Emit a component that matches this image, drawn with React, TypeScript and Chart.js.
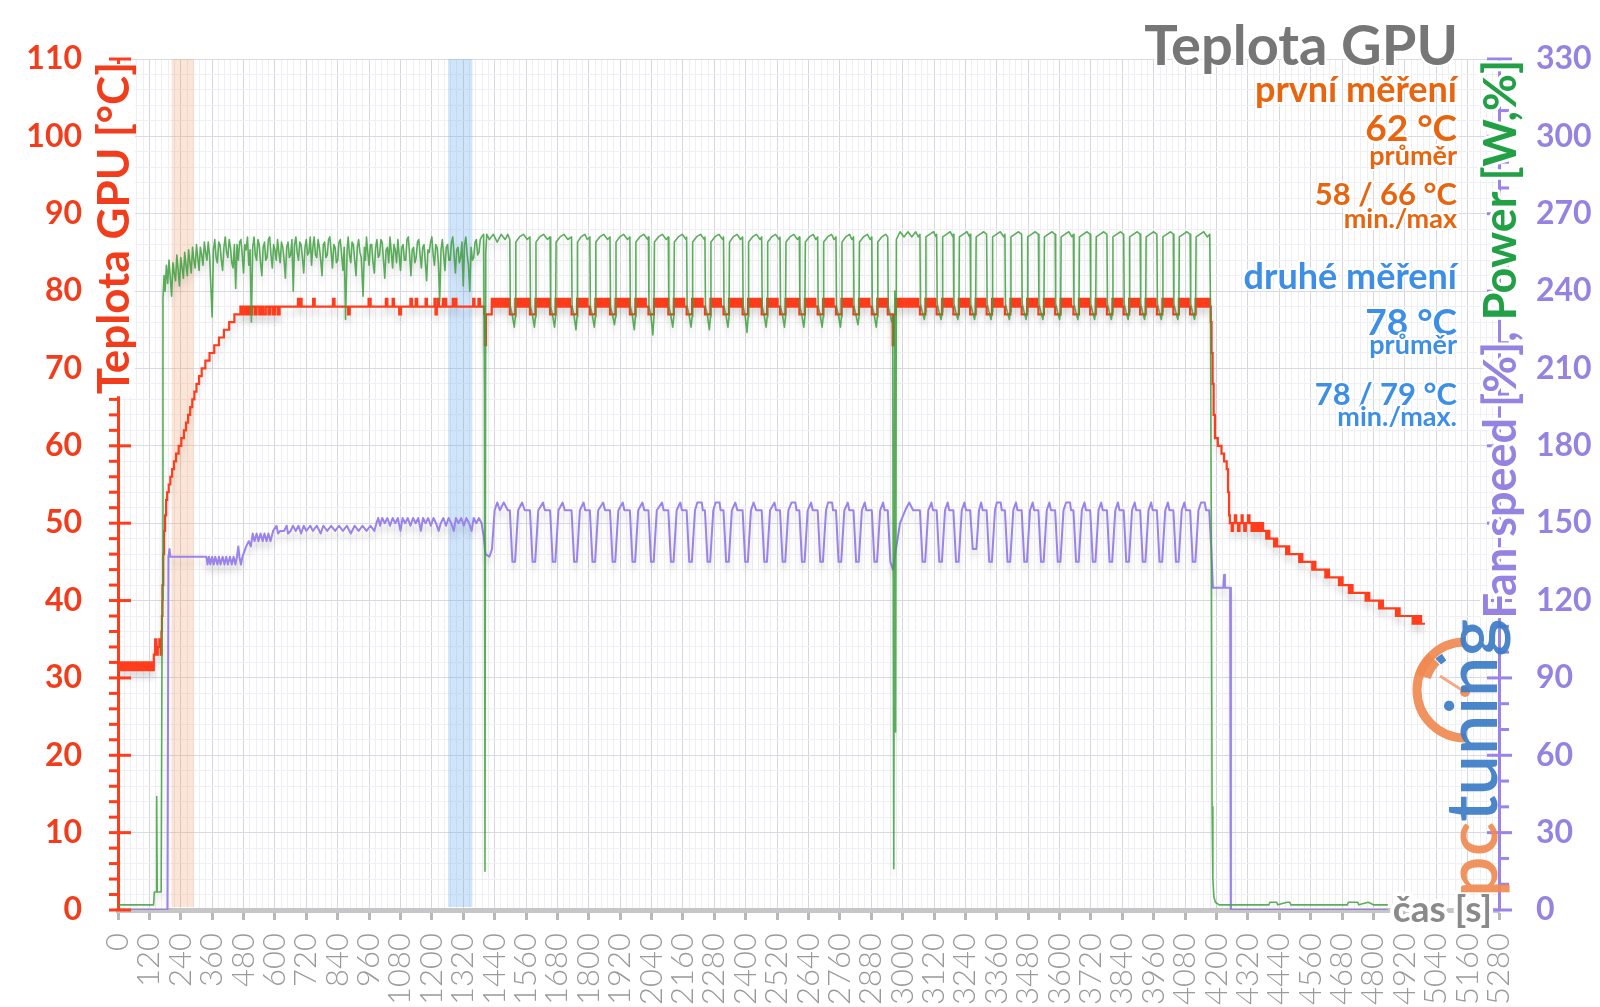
import React, { useEffect, useRef } from "react";
import { Chart, registerables } from "chart.js";

Chart.register(...registerables);

// ---------------- axes ----------------
const timeMax = 5280;
const timeMajorStep = 120;
const timeMinorStep = 24;
const tempMax = 110;
const tempMajorStep = 10;
const tempMinorStep = 2;
const rightMax = 330;
const rightMajorStep = 30;
const rightMinorStep = 10;

// highlighted measuring windows [s]
const firstRunBand = [205, 290];
const secondRunBand = [1262, 1355];

// ---------------- texts ----------------
const chartTitle = "Teplota GPU";
const leftAxisTitle = "Teplota GPU [°C]";
const rightAxisTitleFan = "Fan speed [%], ";
const rightAxisTitlePower = "Power [W,%]";
const xAxisTitle = "čas [s]";
const firstRunTexts = ["první měření", "62 °C", "průměr", "58 / 66 °C", "min./max"];
const secondRunTexts = ["druhé měření", "78 °C", "průměr", "78 / 79 °C", "min./max."];
const logoParts = ["pc", "tuning"];

// ---------------- GPU temperature [t s, °C] ----------------
const tempWarmup = [
  0,32, 6,31, 12,32, 17,31, 23,32, 28,31, 34,32, 40,31, 45,32, 51,31, 57,32, 62,31, 68,32, 74,31,
  80,32, 85,31, 91,32, 97,31, 102,32, 108,31, 114,32, 119,31, 125,32, 131,31, 137,33, 142,35, 147,33,
  152,34, 158,35, 163,33, 166,36, 168,38, 170,42, 173,46, 176,49, 180,51, 184,53, 188,54, 194,55,
  200,56, 207,57, 214,58, 222,59, 232,60, 242,61, 252,62, 260,63, 268,64, 276,65, 284,66, 292,67,
  300,68, 310,69, 320,70, 334,71, 350,72, 368,73, 386,74, 405,75, 425,76, 445,77, 468,78, 475,77,
  482,78, 490,77, 498,78, 505,77, 512,78, 522,77, 530,78, 540,77, 548,78, 556,77, 565,78, 575,77,
  582,78, 592,77, 600,78, 610,77, 618,78, 688,79, 694,78, 698,79, 702,78, 746,79, 752,78, 822,79,
  828,78, 880,77, 886,78, 958,79, 966,78, 1024,79, 1030,78, 1050,79, 1055,78, 1075,77, 1082,78,
  1118,79, 1124,78, 1138,79, 1144,78, 1176,79, 1181,78, 1210,79, 1214,77, 1219,78, 1223,79, 1227,78,
  1242,79, 1246,78, 1251,79, 1255,78, 1280,79, 1286,78, 1290,79, 1294,78, 1358,79, 1363,78, 1378,79,
  1384,78, 1400,77, 1403,73, 1407,77,
];
const tempLoad = [
  1429,79, 1437,78, 1445,79, 1453,78, 1461,79, 1469,78, 1477,79, 1485,78, 1492,79, 1498,77,
  1519,79, 1527,78, 1535,79, 1543,78, 1551,79, 1559,78, 1567,79, 1575,77,
  1596,79, 1604,78, 1612,79, 1620,78, 1628,79, 1636,78, 1644,79, 1652,77,
  1673,79, 1681,78, 1689,79, 1697,78, 1705,79, 1713,78, 1721,79, 1728,78, 1734,77,
  1755,79, 1763,78, 1771,79, 1779,78, 1787,79, 1795,78, 1804,77,
  1825,79, 1833,78, 1841,79, 1849,78, 1857,79, 1865,78, 1873,79, 1881,77,
  1902,79, 1910,78, 1918,79, 1926,78, 1934,79, 1942,78, 1950,79, 1957,77,
  1978,79, 1986,78, 1994,79, 2002,78, 2010,79, 2018,78, 2028,77,
  2049,79, 2057,78, 2065,79, 2073,78, 2081,79, 2089,78, 2097,79, 2104,77,
  2125,79, 2133,78, 2141,79, 2149,78, 2157,79, 2165,78, 2174,77,
  2195,79, 2203,78, 2211,79, 2219,78, 2227,79, 2235,78, 2244,77,
  2265,79, 2273,78, 2281,79, 2289,78, 2297,79, 2305,78, 2315,77,
  2336,79, 2344,78, 2352,79, 2360,78, 2368,79, 2376,78, 2382,79, 2388,77,
  2409,79, 2417,78, 2425,79, 2433,78, 2441,79, 2449,78, 2455,79, 2461,77,
  2482,79, 2490,78, 2498,79, 2506,78, 2514,79, 2522,78, 2531,77,
  2552,79, 2560,78, 2568,79, 2576,78, 2584,79, 2592,78, 2599,79, 2605,77,
  2626,79, 2634,78, 2642,79, 2650,78, 2658,79, 2666,78, 2675,77,
  2696,79, 2704,78, 2712,79, 2720,78, 2728,79, 2736,78, 2745,77,
  2766,79, 2774,78, 2782,79, 2790,78, 2798,79, 2806,78, 2812,77,
  2833,79, 2841,78, 2849,79, 2857,78, 2865,79, 2873,78, 2882,77,
  2903,79, 2911,78, 2919,79, 2927,78, 2935,79, 2943,77, 2962,73, 2966,77,
  2974,79, 2982,78, 2990,79, 2998,78, 3006,79, 3014,78, 3022,79, 3030,78, 3038,79, 3046,78, 3054,79, 3060,78, 3066,77,
  3087,79, 3095,78, 3103,79, 3111,78, 3119,79, 3125,78, 3130,77,
  3151,79, 3159,78, 3167,79, 3175,78, 3183,79, 3189,78, 3194,77,
  3215,79, 3223,78, 3231,79, 3239,78, 3247,79, 3253,78, 3258,77,
  3279,79, 3287,78, 3295,79, 3303,78, 3311,79, 3316,78, 3321,77,
  3342,79, 3350,78, 3358,79, 3366,78, 3374,79, 3382,78, 3391,77,
  3412,79, 3420,78, 3428,79, 3436,78, 3444,79, 3450,78, 3455,77,
  3476,79, 3484,78, 3492,79, 3500,78, 3508,79, 3514,78, 3519,77,
  3540,79, 3548,78, 3556,79, 3564,78, 3572,79, 3578,78, 3583,77,
  3604,79, 3612,78, 3620,79, 3628,78, 3636,79, 3644,78, 3653,77,
  3674,79, 3682,78, 3690,79, 3698,78, 3706,79, 3712,78, 3717,77,
  3738,79, 3746,78, 3754,79, 3762,78, 3770,79, 3776,78, 3781,77,
  3802,79, 3810,78, 3818,79, 3826,78, 3834,79, 3840,78, 3845,77,
  3866,79, 3874,78, 3882,79, 3890,78, 3898,79, 3904,78, 3908,77,
  3929,79, 3937,78, 3945,79, 3953,78, 3961,79, 3967,78, 3972,77,
  3993,79, 4001,78, 4009,79, 4017,78, 4025,79, 4031,78, 4035,77,
  4056,79, 4064,78, 4072,79, 4080,78, 4088,79, 4094,78, 4099,77,
  4120,79, 4128,78, 4136,79, 4144,78, 4152,79, 4160,78, 4168,79,
];
const tempCooldown = [
  4175,78, 4178,76, 4181,72, 4185,68, 4189,64, 4194,61, 4205,60, 4219,59, 4229,58, 4239,57, 4244,54,
  4248,51, 4251,50, 4258,49, 4263,50, 4270,51, 4275,50, 4282,49, 4288,50, 4296,51, 4300,50, 4306,49,
  4312,50, 4320,51, 4326,50, 4334,49, 4340,50, 4348,49, 4356,50, 4364,49, 4372,50, 4378,49, 4390,48,
  4396,49, 4402,48, 4420,47, 4426,48, 4432,47, 4466,46, 4472,47, 4478,46, 4516,45, 4522,46, 4528,45,
  4566,44, 4572,45, 4578,44, 4616,43, 4624,44, 4630,43, 4668,42, 4676,43, 4682,42, 4706,41, 4714,42,
  4720,41, 4770,40, 4778,41, 4784,40, 4822,39, 4830,40, 4836,39, 4886,38, 4894,39, 4900,38, 4950,37,
  4958,38, 4966,37, 4974,38, 4982,37, 4997,37,
];

// ---------------- Power [t s, W] ----------------
const powerWarmup = [
  0,2, 136,2, 139,7, 146,7, 148,44, 150,7, 165,7, 169,120, 172,237,
  176,246, 180,240, 185,250, 190,243, 195,252, 200,245, 205,238, 210,251, 215,247, 220,244, 225,254,
  230,248, 235,242, 240,253, 245,249, 250,245, 255,255, 260,250, 265,246, 270,256, 275,251, 280,247,
  285,257, 290,252, 295,249, 300,258, 305,253, 310,248, 315,257, 320,254, 325,250, 330,259, 335,255,
  340,252, 345,259, 350,254, 360,230, 365,256, 370,260, 375,253, 380,251, 385,259, 390,258, 395,252,
  400,248, 405,257, 410,261, 415,255, 420,253, 425,260, 430,257, 435,251, 440,249, 445,258, 450,241,
  455,258, 460,252, 465,259, 470,260, 475,254, 480,247, 485,258, 490,256, 495,261, 500,250, 505,256,
  510,228, 515,257, 520,261, 525,254, 530,252, 535,260, 540,258, 545,251, 550,246, 555,257, 560,259,
  565,252, 570,253, 575,260, 580,261, 585,254, 590,249, 595,258, 600,256, 605,252, 610,260, 615,255,
  620,251, 625,259, 630,257, 635,252, 640,245, 645,257, 650,259, 655,253, 660,254, 665,260, 670,240,
  675,258, 680,261, 685,255, 690,252, 695,259, 700,258, 705,253, 710,247, 715,257, 720,260, 725,254,
  730,255, 735,261, 740,250, 745,257, 750,261, 755,254, 760,253, 765,260, 770,257, 775,252, 780,246,
  785,258, 790,259, 795,253, 800,254, 805,260, 810,261, 815,255, 820,249, 825,258, 830,257, 835,251,
  840,252, 845,259, 850,260, 855,254, 860,248, 865,257, 870,229, 876,256, 880,261, 885,254, 890,251,
  895,259, 900,258, 905,252, 910,246, 915,257, 920,260, 925,255, 930,253, 937,238, 942,257, 946,252,
  950,261, 955,255, 960,250, 965,258, 970,258, 975,251, 980,247, 985,257, 990,260, 995,253, 1000,254,
  1005,260, 1010,259, 1015,252, 1020,245, 1025,256, 1030,257, 1035,251, 1040,261, 1045,255, 1050,249,
  1055,258, 1060,256, 1065,251, 1070,260, 1075,254, 1080,248, 1085,257, 1090,258, 1095,252, 1100,252,
  1105,260, 1110,261, 1115,254, 1120,246, 1125,256, 1130,257, 1135,251, 1140,253, 1145,259, 1150,260,
  1155,254, 1160,249, 1165,257, 1170,258, 1175,251, 1180,244, 1185,256, 1190,255, 1195,259, 1200,261,
  1205,254, 1210,250, 1215,258, 1220,257, 1225,251, 1230,236, 1235,256, 1240,260, 1245,254, 1250,248,
  1255,257, 1260,258, 1265,252, 1270,252, 1275,259, 1280,261, 1285,254, 1290,247, 1295,256, 1300,257,
  1305,251, 1310,253, 1315,259, 1320,242, 1325,258, 1330,261, 1335,254, 1340,250, 1345,240, 1350,257,
  1355,252, 1360,253, 1365,259, 1370,260, 1375,254, 1380,255, 1385,260, 1390,261, 1398,262, 1401,200,
  1403,15, 1406,255, 1410,262,
];
const powerLoad = [
  1420,260, 1435,262, 1450,259, 1465,262, 1480,260, 1490,262,
  1498,260, 1500,234, 1507,231, 1515,226, 1519,230, 1521,259, 1535,261, 1550,262, 1565,260,
  1575,261, 1577,234, 1584,231, 1592,226, 1596,230, 1598,259, 1612,261, 1627,262, 1642,260,
  1652,261, 1654,234, 1661,231, 1669,226, 1673,230, 1675,259, 1690,261, 1705,262, 1720,260,
  1734,261, 1736,234, 1743,231, 1751,225, 1755,230, 1757,259, 1770,261, 1785,262, 1795,260,
  1804,261, 1806,234, 1813,231, 1821,226, 1825,230, 1827,259, 1842,261, 1857,262, 1872,260,
  1881,261, 1883,234, 1890,231, 1898,227, 1902,230, 1904,259, 1918,261, 1933,262, 1948,260,
  1957,261, 1959,234, 1966,231, 1974,225, 1978,230, 1980,259, 1995,261, 2010,262, 2025,260,
  2028,261, 2030,234, 2037,231, 2045,223, 2049,230, 2051,259, 2066,261, 2081,262, 2096,260,
  2104,261, 2106,234, 2113,231, 2121,226, 2125,230, 2127,259, 2142,261, 2157,262, 2172,260,
  2174,261, 2176,234, 2183,231, 2191,226, 2195,230, 2197,259, 2212,261, 2227,262, 2242,260,
  2244,261, 2246,234, 2253,231, 2261,225, 2265,230, 2267,259, 2282,261, 2297,262, 2312,260,
  2315,261, 2317,234, 2324,231, 2332,226, 2336,230, 2338,259, 2352,261, 2367,262, 2380,260,
  2388,261, 2390,234, 2397,231, 2405,224, 2409,230, 2411,259, 2426,261, 2441,262, 2455,260,
  2461,261, 2463,234, 2470,231, 2478,226, 2482,230, 2484,259, 2499,261, 2514,262, 2528,260,
  2531,261, 2533,234, 2540,231, 2548,226, 2552,230, 2554,259, 2569,261, 2584,262, 2598,260,
  2605,261, 2607,234, 2614,231, 2622,226, 2626,230, 2628,259, 2643,261, 2658,262, 2668,260,
  2675,261, 2677,234, 2684,231, 2692,226, 2696,230, 2698,259, 2713,261, 2728,262, 2738,260,
  2745,261, 2747,234, 2754,231, 2762,226, 2766,230, 2768,259, 2782,261, 2797,262, 2806,260,
  2812,261, 2814,234, 2821,231, 2829,227, 2833,230, 2835,259, 2850,261, 2865,262, 2876,260,
  2882,261, 2884,234, 2891,231, 2899,226, 2903,230, 2905,259, 2920,261, 2935,262,
  2943,261, 2945,234, 2952,231, 2958,228, 2962,230, 2966,16, 2970,240, 2973,69, 2976,260,
  2990,263, 3005,261, 3020,263, 3035,261, 3050,263, 3060,261,
  3066,262, 3068,235, 3075,232, 3083,229, 3087,232, 3089,261, 3103,262, 3118,263, 3128,261,
  3130,262, 3132,235, 3139,232, 3147,229, 3151,232, 3153,261, 3167,262, 3182,263, 3192,261,
  3194,262, 3196,235, 3203,232, 3211,229, 3215,232, 3217,261, 3231,262, 3246,263, 3256,261,
  3258,262, 3260,235, 3267,232, 3275,229, 3279,232, 3281,261, 3295,262, 3310,263,
  3321,262, 3323,235, 3330,232, 3338,229, 3342,232, 3344,261, 3358,262, 3373,263, 3387,261,
  3391,262, 3393,235, 3400,232, 3408,229, 3412,232, 3414,261, 3428,262, 3443,263,
  3455,262, 3457,235, 3464,232, 3472,229, 3476,232, 3478,261, 3492,262, 3507,263,
  3519,262, 3521,235, 3528,232, 3536,229, 3540,232, 3542,261, 3556,262, 3571,263,
  3583,262, 3585,235, 3592,232, 3600,229, 3604,232, 3606,261, 3620,262, 3635,263, 3647,261,
  3653,262, 3655,235, 3662,232, 3670,229, 3674,232, 3676,261, 3690,262, 3705,263,
  3717,262, 3719,235, 3726,232, 3734,229, 3738,232, 3740,261, 3754,262, 3769,263,
  3781,262, 3783,235, 3790,232, 3798,229, 3802,232, 3804,261, 3818,262, 3833,263,
  3845,262, 3847,235, 3854,232, 3862,229, 3866,232, 3868,261, 3882,262, 3897,263,
  3908,262, 3910,235, 3917,232, 3925,229, 3929,232, 3931,261, 3945,262, 3960,263,
  3972,262, 3974,235, 3981,232, 3989,229, 3993,232, 3995,261, 4009,262, 4024,263,
  4035,262, 4037,235, 4044,232, 4052,229, 4056,232, 4058,261, 4072,262, 4087,263,
  4099,262, 4101,235, 4108,232, 4116,229, 4120,232, 4122,261, 4136,262, 4151,263, 4165,261, 4174,262,
];
const powerIdle = [
  4177,232, 4180,150, 4183,40, 4186,12, 4190,5, 4196,3, 4210,2, 4400,2, 4404,3, 4430,3, 4434,2,
  4470,3, 4480,3, 4484,2, 4700,2, 4704,3, 4740,3, 4744,2, 4780,3, 4800,2, 4855,2,
];

// ---------------- Fan speed [t s, %] ----------------
const fanWarmup = [
  0,0, 189,0, 193,137, 197,140, 200,137, 338,137, 342,134, 348,137, 353,134, 360,137, 366,134,
  372,137, 380,134, 386,137, 392,134, 400,137, 407,134, 414,137, 420,134, 428,137, 435,134, 442,137,
  449,134, 455,137, 460,141, 464,137, 470,134, 476,137, 490,141, 500,143, 508,141, 515,146, 522,143,
  530,146, 537,143, 545,146, 553,143, 560,146, 568,143, 575,146, 583,143, 593,147, 606,149, 612,146,
  620,147, 635,147, 645,149, 650,146, 660,147, 669,149, 680,147, 690,149, 700,146, 710,149, 720,147,
  735,149, 745,147, 760,149, 775,146, 785,149, 800,147, 815,149, 830,147, 845,149, 860,147, 875,149,
  890,146, 905,149, 920,147, 935,149, 950,147, 965,149, 980,147, 988,150, 995,152, 1002,149, 1010,152,
  1020,150, 1030,152, 1040,149, 1050,152, 1060,150, 1070,152, 1080,147, 1088,152, 1098,150, 1108,152,
  1118,149, 1128,152, 1138,150, 1148,152, 1158,147, 1166,152, 1176,150, 1186,152, 1196,149, 1206,152,
  1216,150, 1226,147, 1234,150, 1244,152, 1254,149, 1264,152, 1274,150, 1284,147, 1292,152, 1302,150,
  1312,152, 1322,149, 1332,152, 1342,150, 1352,147, 1360,152, 1370,150, 1380,152, 1390,150, 1398,145,
  1405,138, 1420,137, 1430,140, 1440,155, 1450,158, 1460,155, 1475,158, 1490,155,
];
const fanLoad = [
  1498,155, 1508,135, 1518,135, 1530,155, 1545,158, 1555,155,
  1575,155, 1585,135, 1595,135, 1607,155, 1625,158, 1632,155,
  1652,155, 1662,135, 1672,135, 1684,155, 1700,158, 1708,155,
  1734,155, 1744,135, 1754,135, 1766,155, 1780,158, 1786,155,
  1804,155, 1814,135, 1824,135, 1836,155, 1855,158, 1862,155,
  1881,155, 1891,135, 1901,135, 1913,155, 1930,158, 1936,155,
  1957,155, 1967,135, 1977,135, 1989,155, 2005,158, 2012,155,
  2028,155, 2038,135, 2048,135, 2060,155, 2080,158, 2086,155,
  2104,155, 2114,135, 2124,135, 2136,155, 2150,158, 2156,155,
  2174,155, 2184,135, 2194,135, 2206,155, 2215,158, 2232,158, 2236,155,
  2244,155, 2254,135, 2264,135, 2276,155, 2285,158, 2300,158, 2304,155,
  2315,155, 2325,135, 2335,135, 2347,155, 2360,158, 2368,155,
  2388,155, 2398,135, 2408,135, 2420,155, 2430,158, 2440,155,
  2461,155, 2471,135, 2481,135, 2493,155, 2510,158, 2516,155,
  2531,155, 2541,135, 2551,135, 2563,155, 2575,158, 2590,158, 2594,155,
  2605,155, 2615,135, 2625,135, 2637,155, 2650,158, 2656,155,
  2675,155, 2685,135, 2695,135, 2707,155, 2715,158, 2730,158, 2734,155,
  2745,155, 2755,135, 2765,135, 2777,155, 2790,158, 2796,155,
  2812,155, 2822,135, 2832,135, 2844,155, 2855,158, 2861,155,
  2882,155, 2892,135, 2902,135, 2914,155, 2925,158, 2931,155,
  2943,155, 2953,135, 2963,132, 2970,137, 2990,150, 3010,155, 3025,158, 3040,155,
  3066,155, 3076,135, 3086,135, 3098,155, 3110,158, 3116,155,
  3130,155, 3140,135, 3150,135, 3162,155, 3172,158, 3178,155,
  3194,155, 3204,135, 3214,135, 3226,155, 3236,158, 3242,155,
  3258,155, 3268,140, 3282,140, 3292,155, 3300,158, 3306,155,
  3321,155, 3331,135, 3341,135, 3353,155, 3360,158, 3375,158, 3379,155,
  3391,155, 3401,135, 3411,135, 3423,155, 3433,158, 3439,155,
  3455,155, 3465,135, 3475,135, 3487,155, 3497,158, 3503,155,
  3519,155, 3529,135, 3539,135, 3551,155, 3561,158, 3567,155,
  3583,155, 3593,135, 3603,135, 3615,155, 3625,158, 3640,158, 3644,155,
  3653,155, 3663,135, 3673,135, 3685,155, 3695,158, 3701,155,
  3717,155, 3727,135, 3737,135, 3749,155, 3759,158, 3765,155,
  3781,155, 3791,135, 3801,135, 3813,155, 3823,158, 3829,155,
  3845,155, 3855,135, 3865,135, 3877,155, 3887,158, 3893,155,
  3908,155, 3918,135, 3928,135, 3940,155, 3950,158, 3956,155,
  3972,155, 3982,135, 3992,135, 4004,155, 4014,158, 4020,155,
  4035,155, 4045,135, 4055,135, 4067,155, 4077,158, 4083,155,
  4099,155, 4109,135, 4119,135, 4131,155, 4141,158, 4155,158, 4160,155, 4172,155,
];
const fanIdle = [
  4180,140, 4186,125, 4226,125, 4229,130, 4232,125, 4252,125, 4255,0, 4855,0,
];

// ---------------- styling ----------------
const FONT = "Lato, 'Open Sans', 'DejaVu Sans', sans-serif";
const RED = "#ff3c1c";
const RED_TEXT = "#f23d1c";
const PURPLE = "#9a83ea";
const PURPLE_TEXT = "#9682e0";
const GREEN = "rgba(62,160,62,0.85)";
const GREEN_TEXT = "#22a046";
const ORANGE_TEXT = "#e8640e";
const BLUE_TEXT = "#3d8ee6";
const GREY_TEXT = "#9a9a9a";

function toPoints(...parts: number[][]) {
  const pts: { x: number; y: number }[] = [];
  parts.forEach((p) => {
    for (let i = 0; i < p.length; i += 2) pts.push({ x: p[i], y: p[i + 1] });
  });
  return pts;
}

const decorPlugin = {
  id: "decor",
  beforeDatasetsDraw(chart: any) {
    const { ctx, chartArea: a, scales } = chart;
    const x = scales.x;
    ctx.save();
    const band = (r: number[], c: string) => {
      const x0 = x.getPixelForValue(r[0]);
      const x1 = x.getPixelForValue(r[1]);
      ctx.fillStyle = c;
      ctx.fillRect(x0, a.top, x1 - x0, a.bottom - a.top - 3);
    };
    band(firstRunBand, "rgba(240,150,90,0.25)");
    band(secondRunBand, "rgba(110,170,240,0.32)");
    ctx.restore();
  },
  beforeDatasetDraw(chart: any) {
    const ctx = chart.ctx;
    ctx.save();
    ctx.shadowColor = "rgba(0,0,0,0.13)";
    ctx.shadowBlur = 6;
    ctx.shadowOffsetY = 7;
  },
  afterDatasetDraw(chart: any) {
    chart.ctx.restore();
  },
  afterDraw(chart: any) {
    const { ctx, scales } = chart;
    const yl = scales.y;
    const yr = scales.y1;
    ctx.save();
    ctx.lineCap = "butt";
    // left axis tick marks
    ctx.strokeStyle = RED;
    ctx.lineWidth = 3;
    const lx = yl.right;
    yl.ticks.forEach((t: any) => {
      const py = yl.getPixelForValue(t.value);
      const major = t.value % tempMajorStep === 0;
      ctx.beginPath();
      ctx.moveTo(lx - 9, py);
      ctx.lineTo(major ? lx + 13 : lx, py);
      ctx.stroke();
    });
    // right axis tick marks
    ctx.strokeStyle = PURPLE;
    const rx = yr.left;
    yr.ticks.forEach((t: any) => {
      const py = yr.getPixelForValue(t.value);
      const major = t.value % rightMajorStep === 0;
      ctx.beginPath();
      ctx.moveTo(major ? rx - 12 : rx, py);
      ctx.lineTo(major ? rx + 13 : rx + 10, py);
      ctx.stroke();
    });

    // left axis title
    ctx.font = `bold 44px ${FONT}`;
    const lw = ctx.measureText(leftAxisTitle).width;
    ctx.fillStyle = "#ffffff";
    ctx.fillRect(94, 64, 41, lw);
    ctx.save();
    ctx.translate(129, 62);
    ctx.rotate(-Math.PI / 2);
    ctx.textAlign = "right";
    ctx.textBaseline = "alphabetic";
    ctx.fillStyle = RED_TEXT;
    ctx.fillText(leftAxisTitle, 0, 0);
    ctx.restore();

    // right axis title
    ctx.save();
    ctx.translate(1516, 60);
    ctx.rotate(-Math.PI / 2);
    ctx.font = `bold 45px ${FONT}`;
    ctx.textAlign = "right";
    ctx.textBaseline = "alphabetic";
    ctx.lineJoin = "round";
    ctx.strokeStyle = "#ffffff";
    ctx.lineWidth = 6;
    const pw = ctx.measureText(rightAxisTitlePower).width;
    ctx.strokeText(rightAxisTitlePower, 0, 0);
    ctx.strokeText(rightAxisTitleFan, -pw, 0);
    ctx.fillStyle = GREEN_TEXT;
    ctx.fillText(rightAxisTitlePower, 0, 0);
    ctx.fillStyle = PURPLE_TEXT;
    ctx.fillText(rightAxisTitleFan, -pw, 0);
    ctx.restore();

    // chart title and statistics
    const txt = (s: string, x: number, y: number, size: number, color: string) => {
      ctx.font = `bold ${size}px ${FONT}`;
      ctx.textAlign = "right";
      ctx.textBaseline = "alphabetic";
      ctx.lineJoin = "round";
      ctx.strokeStyle = "#ffffff";
      ctx.lineWidth = 4;
      ctx.strokeText(s, x, y);
      ctx.fillStyle = color;
      ctx.fillText(s, x, y);
    };
    txt(chartTitle, 1458, 65, 56, "#767676");
    const sizes = [36, 37, 27, 31, 27];
    const firstBase = [102, 141, 165, 205, 228];
    const secondBase = [289, 335, 354, 405, 426];
    firstRunTexts.forEach((s, i) => txt(s, 1457, firstBase[i], sizes[i], ORANGE_TEXT));
    secondRunTexts.forEach((s, i) => txt(s, 1457, secondBase[i], sizes[i], BLUE_TEXT));

    // x axis title
    ctx.font = `bold 37px ${FONT}`;
    ctx.textAlign = "right";
    ctx.lineWidth = 8;
    ctx.strokeStyle = "#ffffff";
    ctx.strokeText(xAxisTitle, 1492, 922);
    ctx.fillStyle = "#8a8a8a";
    ctx.fillText(xAxisTitle, 1492, 922);

    // logo
    ctx.save();
    ctx.globalAlpha = 0.92;
    ctx.beginPath();
    ctx.arc(1465, 690, 48, -Math.PI / 2, Math.PI / 2, true);
    ctx.lineWidth = 9;
    ctx.strokeStyle = "#f08a50";
    ctx.stroke();
    ctx.beginPath();
    ctx.arc(1465, 690, 44, Math.PI * 1.1, Math.PI * 1.25);
    ctx.lineWidth = 16;
    ctx.stroke();
    ctx.beginPath();
    ctx.arc(1465, 690, 39, Math.PI * 1.26, Math.PI * 1.32);
    ctx.lineWidth = 8;
    ctx.strokeStyle = "#3b7cc4";
    ctx.stroke();
    ctx.beginPath();
    ctx.moveTo(1465, 692);
    ctx.lineTo(1440, 676);
    ctx.lineWidth = 3;
    ctx.strokeStyle = "#f4a37a";
    ctx.stroke();
    ctx.beginPath();
    ctx.arc(1465, 692, 5, 0, Math.PI * 2);
    ctx.fillStyle = "#f08a50";
    ctx.fill();
    ctx.translate(1497, 897);
    ctx.rotate(-Math.PI / 2);
    ctx.font = `600 72px ${FONT}`;
    ctx.textAlign = "left";
    ctx.textBaseline = "alphabetic";
    ctx.fillStyle = "#f08a50";
    ctx.fillText(logoParts[0], 0, 0);
    const pcw = ctx.measureText(logoParts[0]).width;
    ctx.fillStyle = "#3b7cc4";
    ctx.fillText(logoParts[1], pcw, 0);
    ctx.restore();

    ctx.restore();
  },
};

export default function App() {
  const ref = useRef<HTMLCanvasElement | null>(null);
  useEffect(() => {
    if (!ref.current) return;
    const chart = new Chart(ref.current, {
      type: "line",
      data: {
        datasets: [
          {
            label: "Power",
            data: toPoints(powerWarmup, powerLoad, powerIdle),
            yAxisID: "y1",
            borderColor: GREEN,
            borderWidth: 1.6,
            pointRadius: 0,
            borderJoinStyle: "round",
            order: 0,
          },
          {
            label: "Teplota GPU",
            data: toPoints(tempWarmup, tempLoad, tempCooldown),
            yAxisID: "y",
            borderColor: RED,
            borderWidth: 2.2,
            stepped: true,
            pointRadius: 0,
            order: 1,
          },
          {
            label: "Fan speed",
            data: toPoints(fanWarmup, fanLoad, fanIdle),
            yAxisID: "y1",
            borderColor: PURPLE,
            borderWidth: 2,
            pointRadius: 0,
            borderJoinStyle: "round",
            order: 2,
          },
        ] as any,
      },
      options: {
        animation: false,
        responsive: false,
        devicePixelRatio: 1,
        layout: { padding: { top: 59, left: 0, right: 0, bottom: 0 } },
        plugins: { legend: { display: false }, tooltip: { enabled: false } },
        scales: {
          x: {
            type: "linear",
            min: 0,
            max: timeMax,
            afterFit: (s: any) => {
              s.height = 97;
            },
            ticks: {
              stepSize: timeMinorStep,
              autoSkip: false,
              minRotation: 90,
              maxRotation: 90,
              padding: 13,
              color: GREY_TEXT,
              font: { family: FONT, size: 31, weight: "300" },
              callback: (v: any) => (v % timeMajorStep === 0 ? String(v) : ""),
            },
            grid: {
              color: (c: any) => (c.tick && c.tick.value % timeMajorStep === 0 ? "#d6d6df" : "#eeeef3"),
              lineWidth: 1,
              drawTicks: true,
              tickLength: 10,
              tickWidth: 3,
              tickColor: (c: any) => (c.tick && c.tick.value % timeMajorStep === 0 ? "#b8b8b8" : "rgba(0,0,0,0)"),
            },
            border: { display: true, color: "#c6c6c6", width: 5 },
          },
          y: {
            position: "left",
            min: 0,
            max: tempMax,
            afterFit: (s: any) => {
              s.width = 118;
            },
            ticks: {
              stepSize: tempMinorStep,
              autoSkip: false,
              padding: 36,
              color: RED_TEXT,
              font: { family: FONT, size: 32, weight: "bold" },
              callback: (v: any) => (v % tempMajorStep === 0 ? String(v) : ""),
            },
            grid: {
              drawTicks: false,
              color: (c: any) => (c.tick && c.tick.value % tempMajorStep === 0 ? "#dadae2" : "#f0f0f4"),
              lineWidth: 1,
            },
            border: { display: true, color: RED, width: 3 },
          },
          y1: {
            position: "right",
            min: 0,
            max: rightMax,
            afterFit: (s: any) => {
              s.width = 101;
            },
            ticks: {
              stepSize: rightMinorStep,
              autoSkip: false,
              padding: 37,
              color: PURPLE_TEXT,
              font: { family: FONT, size: 32, weight: "bold" },
              callback: (v: any) => (v % rightMajorStep === 0 ? String(v) : ""),
            },
            grid: { drawOnChartArea: false, drawTicks: false },
            border: { display: true, color: PURPLE, width: 3 },
          },
        },
      } as any,
      plugins: [decorPlugin],
    });
    return () => chart.destroy();
  }, []);
  return (
    <div style={{ position: "fixed", left: 0, top: 0, width: 1600, height: 1007, background: "#fff" }}>
      <canvas ref={ref} width={1600} height={1007} style={{ width: 1600, height: 1007, display: "block" }} />
    </div>
  );
}
